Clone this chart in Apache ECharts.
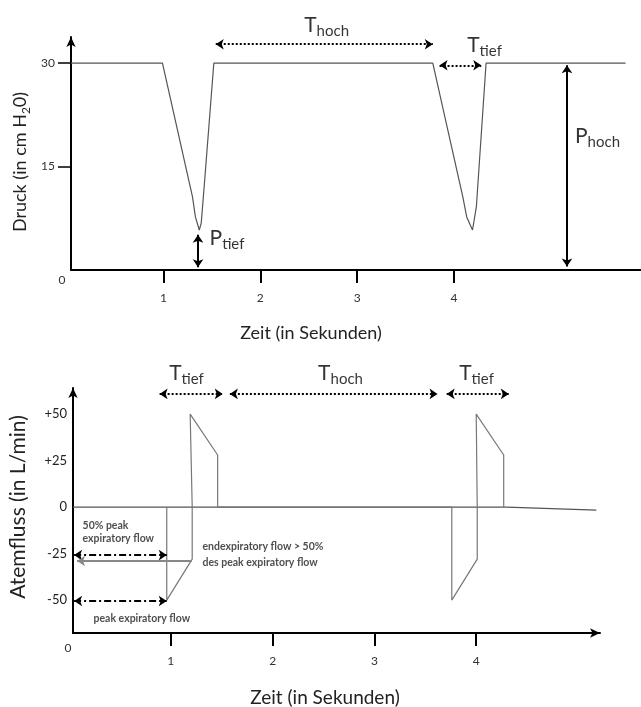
<!DOCTYPE html>
<html>
<head>
<meta charset="utf-8">
<script src="https://cdn.jsdelivr.net/npm/echarts@6/dist/echarts.min.js"></script>
<style>
html,body{margin:0;padding:0;background:#fff;}
#c{width:641px;height:707px;}
</style>
</head>
<body>
<div id="c"></div>
<script>
// ---------- data ----------
const pressureTime  = [0.046, 0.99, 1.30, 1.33, 1.37, 1.39, 1.42, 1.52, 3.78, 4.09, 4.13, 4.19, 4.23, 4.33, 5.77];
const pressureValue = [30,    30,   10.6, 7.7,  5.8,  6.8,  12,   30,   30,   10.6, 7.7,  5.8,  9.2,  30,   30];

const flowTime  = [0.96, 0.96, 1.21, 1.21, 1.19, 1.46, 1.46, 3.76, 3.76, 4.01, 4.01, 4.00, 4.27, 4.27];
const flowValue = [0,    -50,  -28,  0,    50,   28,   0,    0,    -50,  -28,  0,    50,   28,   0];

const baselineTime  = [0.04, 4.30, 5.18];
const baselineValue = [0,    0,    -1.6];

const timeTicks      = [1, 2, 3, 4];
const pressureTicks  = [15, 30];
const flowTicks      = [-50, -25, 0, 25, 50];

// annotation arrows [t1, v1, t2, v2]
const topDottedArrows = [[1.54, 32.75, 3.78, 32.75], [3.85, 29.7, 4.28, 29.7]];
const topSolidArrows  = [[5.165, 29.7, 5.165, 0.5], [1.357, 5.1, 1.357, 0.4]];
const bottomDottedArrows = [[0.89, 60.8, 1.51, 60.8], [1.58, 60.8, 3.62, 60.8], [3.71, 60.8, 4.32, 60.8]];
const bottomDashDotArrows = [[0.05, -25.8, 0.96, -25.8], [0.05, -50.5, 0.96, -50.5]];
const bottomGrayArrow = [1.208, -29, 0.079, -29];

// annotation labels
const topLabelPos   = [[2.684, 35.1], [4.314, 32.2], [5.48, 19.0], [1.656, 4.16]];
const topLabelMain  = ['T', 'T', 'P', 'P'];
const topLabelSub   = ['hoch', 'tief', 'hoch', 'tief'];
const bottomLabelPos  = [[1.154, 70.5], [2.667, 70.5], [4.003, 70.5]];
const bottomLabelMain = ['T', 'T', 'T'];
const bottomLabelSub  = ['tief', 'hoch', 'tief'];
const noteTexts = ['50% peak\nexpiratory flow', 'endexpiratory flow > 50%\ndes peak expiratory flow', 'peak expiratory flow'];
const notePos   = [[0.128, -13.2], [1.306, -25.8], [0.236, -59.7]];
const noteLineHeight = [13, 16, 14];

// ---------- helpers ----------
const zip = (a, b) => a.map((x, i) => [x, b[i]]);
const FONT = 'Lato';
const arrowLine = (a, style, sym) => [
  {coord: [a[0], a[1]], symbol: sym ? sym[0] : 'arrow', symbolSize: 8},
  {coord: [a[2], a[3]], symbol: sym ? sym[1] : 'arrow', symbolSize: 8, lineStyle: style}
];
const richSub = {
  m: {fontSize: 21, lineHeight: 21, fontFamily: FONT, color: '#000', padding: [0, 0, 3, 0], verticalAlign: 'bottom'},
  s: {fontSize: 15, lineHeight: 15, fontFamily: FONT, color: '#000', verticalAlign: 'bottom'}
};

const dotted = {type: [2, 2], width: 2, color: '#000'};
const solid = {type: 'solid', width: 2, color: '#000'};
const dashDot = {type: [7, 3, 2, 3], width: 2, color: '#000'};
const grayStyle = {type: 'solid', width: 2, color: '#888'};

const chart = echarts.init(document.getElementById('c'), null, {renderer: 'canvas'});

const option = {
  animation: false,
  backgroundColor: '#fff',
  textStyle: {fontFamily: FONT},
  grid: [
    {left: 71, top: 37, width: 570, height: 233},
    {left: 73, top: 388, width: 527, height: 245}
  ],
  xAxis: [
    {
      type: 'value', gridIndex: 0, min: 0.046, max: 5.929,
      axisLine: {show: true, onZero: false, lineStyle: {color: '#000', width: 2}},
      axisTick: {show: true, customValues: timeTicks, length: 13, lineStyle: {color: '#000', width: 2}},
      axisLabel: {customValues: timeTicks, margin: 22, fontSize: 12, color: '#333', fontFamily: FONT},
      splitLine: {show: false}
    },
    {
      type: 'value', gridIndex: 1, min: 0.039, max: 5.216,
      axisLine: {show: true, onZero: false, symbol: ['none', 'arrow'], symbolSize: [7, 10], lineStyle: {color: '#000', width: 2}},
      axisTick: {show: true, customValues: timeTicks, length: 13, lineStyle: {color: '#000', width: 2}},
      axisLabel: {customValues: timeTicks, margin: 22, fontSize: 12, color: '#333', fontFamily: FONT},
      splitLine: {show: false}
    }
  ],
  yAxis: [
    {
      type: 'value', gridIndex: 0, min: 0, max: 33.8,
      axisLine: {show: true, onZero: false, symbol: ['none', 'arrow'], symbolSize: [7, 10], lineStyle: {color: '#000', width: 2}},
      axisTick: {show: true, customValues: pressureTicks, length: 13, lineStyle: {color: '#000', width: 1.5}},
      axisLabel: {customValues: pressureTicks, margin: 16, fontSize: 12, color: '#333', fontFamily: FONT},
      splitLine: {show: false}
    },
    {
      type: 'value', gridIndex: 1, min: -67.7, max: 64,
      axisLine: {show: true, onZero: false, symbol: ['none', 'arrow'], symbolSize: [7, 10], lineStyle: {color: '#000', width: 2}},
      axisTick: {show: false},
      axisLabel: {customValues: flowTicks, margin: 6, fontSize: 13, color: '#222', fontFamily: FONT,
        formatter: v => (v > 0 ? '+' + v : '' + v)},
      splitLine: {show: false}
    }
  ],
  graphic: [
    {type: 'text', x: 62, y: 280, style: {text: '0', fontSize: 12, fontFamily: FONT, fill: '#333', align: 'center', verticalAlign: 'middle', textAlign: 'center', textVerticalAlign: 'middle'}},
    {type: 'text', x: 68, y: 648, style: {text: '0', fontSize: 12, fontFamily: FONT, fill: '#333', align: 'center', verticalAlign: 'middle', textAlign: 'center', textVerticalAlign: 'middle'}},
    {type: 'text', x: 311, y: 333, style: {text: 'Zeit (in Sekunden)', fontSize: 18, fontFamily: FONT, fill: '#222', align: 'center', verticalAlign: 'middle', textAlign: 'center', textVerticalAlign: 'middle'}},
    {type: 'text', x: 325, y: 698, style: {text: 'Zeit (in Sekunden)', fontSize: 19, fontFamily: FONT, fill: '#222', align: 'center', verticalAlign: 'middle', textAlign: 'center', textVerticalAlign: 'middle'}},
    {type: 'text', x: 23, y: 162, rotation: Math.PI / 2,
      style: {text: '{a|Druck (in cm H}{b|2}{a|0)}', fill: '#222', align: 'center', verticalAlign: 'middle', textAlign: 'center', textVerticalAlign: 'middle',
        rich: {a: {fontSize: 18, lineHeight: 18, fontFamily: FONT, fill: '#222', color: '#222', padding: [0, 0, 3, 0], verticalAlign: 'bottom'},
               b: {fontSize: 12, lineHeight: 12, fontFamily: FONT, fill: '#222', color: '#222', verticalAlign: 'bottom'}}}},
    {type: 'text', x: 18, y: 507, rotation: Math.PI / 2,
      style: {text: 'Atemfluss (in L/min)', fontSize: 21, fontFamily: FONT, fill: '#222', align: 'center', verticalAlign: 'middle', textAlign: 'center', textVerticalAlign: 'middle'}}
  ],
  series: [
    {
      type: 'line', xAxisIndex: 0, yAxisIndex: 0, data: zip(pressureTime, pressureValue),
      showSymbol: false, symbol: 'none', silent: true,
      lineStyle: {color: '#555', width: 1.2},
      markLine: {
        silent: true, label: {show: false}, emphasis: {disabled: true},
        data: [
          ...topDottedArrows.map(a => arrowLine(a, dotted)),
          ...topSolidArrows.map(a => arrowLine(a, solid))
        ]
      }
    },
    {
      type: 'line', xAxisIndex: 1, yAxisIndex: 1, data: zip(baselineTime, baselineValue),
      showSymbol: false, symbol: 'none', silent: true,
      lineStyle: {color: '#555', width: 1.3}
    },
    {
      type: 'line', xAxisIndex: 1, yAxisIndex: 1, data: zip(flowTime, flowValue),
      showSymbol: false, symbol: 'none', silent: true,
      lineStyle: {color: '#777', width: 1.2},
      markLine: {
        silent: true, label: {show: false}, emphasis: {disabled: true},
        data: [
          ...bottomDottedArrows.map(a => arrowLine(a, dotted)),
          ...bottomDashDotArrows.map(a => arrowLine(a, dashDot)),
          arrowLine(bottomGrayArrow, grayStyle, ['none', 'arrow'])
        ]
      }
    },
    {
      type: 'scatter', xAxisIndex: 0, yAxisIndex: 0, clip: false, silent: true,
      symbolSize: 1, itemStyle: {color: 'rgba(0,0,0,0)'},
      label: {show: true, position: 'inside', rich: richSub},
      data: topLabelPos.map((p, i) => ({value: p, label: {formatter: '{m|' + topLabelMain[i] + '}{s|' + topLabelSub[i] + '}'}}))
    },
    {
      type: 'scatter', xAxisIndex: 1, yAxisIndex: 1, clip: false, silent: true,
      symbolSize: 1, itemStyle: {color: 'rgba(0,0,0,0)'},
      label: {show: true, position: 'inside', rich: richSub},
      data: bottomLabelPos.map((p, i) => ({value: p, label: {formatter: '{m|' + bottomLabelMain[i] + '}{s|' + bottomLabelSub[i] + '}'}}))
    },
    {
      type: 'scatter', xAxisIndex: 1, yAxisIndex: 1, clip: false, silent: true,
      symbolSize: 1, itemStyle: {color: 'rgba(0,0,0,0)'},
      label: {show: true, position: 'right', distance: 0, align: 'left', fontSize: 10.5, fontWeight: 'bold', color: '#222', fontFamily: FONT},
      data: notePos.map((p, i) => ({value: p, label: {formatter: noteTexts[i], lineHeight: noteLineHeight[i]}}))
    }
  ]
};
chart.setOption(option);
</script>
</body>
</html>
